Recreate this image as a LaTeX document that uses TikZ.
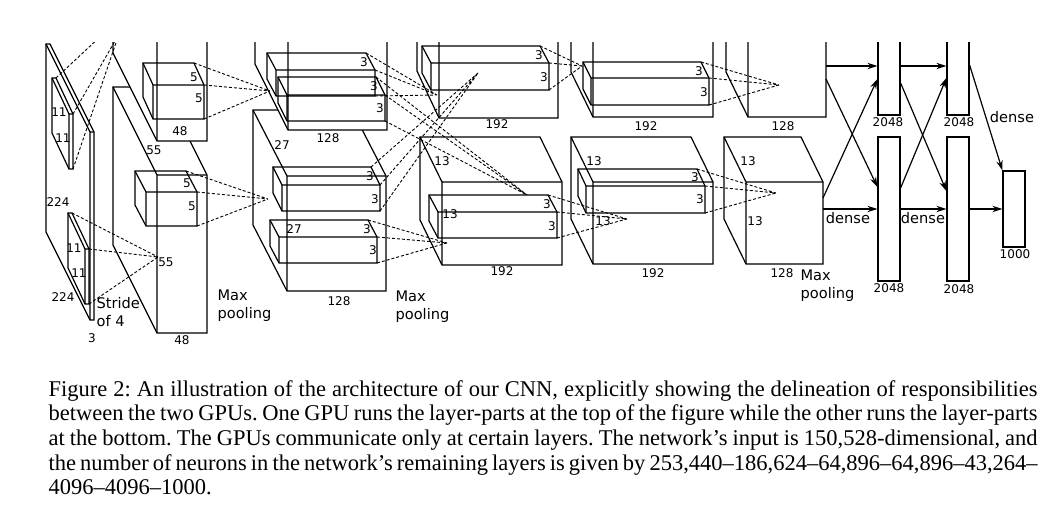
\documentclass[tikz,border=0pt]{standalone}
\usepackage{fontspec}
\setmainfont{Liberation Serif}
\newfontfamily\dejavu{DejaVu Sans}
\usetikzlibrary{arrows.meta}

\begin{document}
\begin{tikzpicture}[
  x=0.5pt, y=-0.5pt, line width=0.6pt,
  pics/cuboid/.style n args={4}{code={
    \draw[pic actions] (0,0) -- (#1,0) -- ++(#3,#4) -- ++(0,#2) -- ++(-#1,0) -- ++(-#3,-#4) -- cycle;
    \draw (#3,#4) -- ++(#1,0) (#3,#4) -- ++(0,#2) (#3,#4) -- (0,0);
    \coordinate (-b) at (#1,0);
    \coordinate (-c) at (#1+#3,#4);
    \coordinate (-d) at (#1+#3,#4+#2);
  }},
  block/.style={fill=white},
  conn/.style={line width=0.45pt, dash pattern=on 1.5pt off 1pt},
  fcarrow/.style={-{Stealth[length=5pt,width=3.2pt]}},
  fcbox/.style={draw, minimum width=11pt, minimum height=72pt, inner sep=0pt},
  dimlabel/.style={font=\dejavu\fontsize{6}{7}\selectfont, inner sep=0pt},
  wordlabel/.style={font=\dejavu\fontsize{7.3}{9}\selectfont, inner sep=0pt, align=left, anchor=west}
  ]
  \useasboundingbox (0,0) rectangle (1060,518);
  \begin{scope}
  \clip (0,43) rectangle (1060,360);
  % layers, lower GPU part first
  \pic[block] (inp) at (46,44) {cuboid={4}{188}{44}{88}};
  \pic[block] (c1b) at (113,87) {cuboid={50}{158}{44}{88}};
  \pic[block] (c1t) at (113,-105) {cuboid={50}{158}{44}{88}};
  \pic[block] (c2b) at (253,110) {cuboid={99}{115}{34}{66}};
  \pic[block] (c2t) at (255,-51) {cuboid={99}{115}{33}{66}};
  \pic[block] (c3b) at (420,137) {cuboid={120}{83}{22}{45}};
  \pic[block] (c3t) at (417,-12) {cuboid={119}{83}{22}{47}};
  \pic[block] (c4b) at (571,137) {cuboid={120}{82}{22}{45}};
  \pic[block] (c4t) at (571,-10) {cuboid={120}{82}{22}{45}};
  \pic[block] (c5b) at (724,137) {cuboid={77}{82}{22}{45}};
  \pic[block] (c5t) at (726,-10) {cuboid={78}{82}{22}{45}};
  % kernels
  \pic (ki1) at (52,78) {cuboid={4}{55}{17}{36}};
  \pic (ki2) at (68,213) {cuboid={4}{55}{17}{36}};
  \pic (k1t) at (143,63) {cuboid={51}{34}{10}{22}};
  \pic (k1b) at (135,171) {cuboid={51}{34}{11}{21}};
  \pic (k2a) at (267,53) {cuboid={99}{26}{9}{17}};
  \pic (k2b) at (278,77) {cuboid={98}{26}{9}{18}};
  \pic (k2c) at (273,167) {cuboid={98}{26}{9}{18}};
  \pic (k2d) at (270,220) {cuboid={98}{26}{9}{17}};
  \pic (k3t) at (422,46) {cuboid={118}{27}{9}{17}};
  \pic (k3b) at (429,195) {cuboid={119}{26}{9}{17}};
  \pic (k4t) at (583,62) {cuboid={118}{27}{8}{16}};
  \pic (k4b) at (578,169) {cuboid={119}{27}{8}{17}};
  % where the kernels map to
  \coordinate (p1u) at (103,34);
  \coordinate (p1t) at (119,34);
  \coordinate (p1b) at (158,257);
  \coordinate (p2t) at (270,91);
  \coordinate (p2b) at (268,199);
  \coordinate (p3t) at (437,95);
  \coordinate (p3x) at (478,73);
  \coordinate (p3b) at (447,243);
  \coordinate (p3y) at (527,195);
  \coordinate (p4t) at (582,66);
  \coordinate (p4b) at (627,219);
  \coordinate (p5t) at (779,85);
  \coordinate (p5b) at (776,193);
  \draw[conn] (ki1-b) -- (p1u) (ki1-c) -- (p1t) (ki1-d) -- (p1t);
  \draw[conn] (ki2-b) -- (p1b) (ki2-c) -- (p1b) (ki2-d) -- (p1b);
  \draw[conn] (k1t-b) -- (p2t) (k1t-c) -- (p2t) (k1t-d) -- (p2t);
  \draw[conn] (k1b-b) -- (p2b) (k1b-c) -- (p2b) (k1b-d) -- (p2b);
  \draw[conn] (k2a-b) -- (p3t) (k2a-c) -- (p3t) (k2a-d) -- (p3t);
  \draw[conn] (k2b-b) -- (p3y) (k2b-c) -- (p3y) (k2b-d) -- (p3y);
  \draw[conn] (k2c-b) -- (p3x) (k2c-c) -- (p3x) (k2c-d) -- (p3x);
  \draw[conn] (k2d-b) -- (p3b) (k2d-c) -- (p3b) (k2d-d) -- (p3b);
  \draw[conn] (k3t-b) -- (p4t) (k3t-c) -- (p4t) (k3t-d) -- (p4t);
  \draw[conn] (k3b-b) -- (p4b) (k3b-c) -- (p4b) (k3b-d) -- (p4b);
  \draw[conn] (k4t-b) -- (p5t) (k4t-c) -- (p5t) (k4t-d) -- (p5t);
  \draw[conn] (k4b-b) -- (p5b) (k4b-c) -- (p5b) (k4b-d) -- (p5b);
  % dense layers
  \node[fcbox] (fc1t) at (889,43) {};
  \node[fcbox] (fc1b) at (889,209) {};
  \node[fcbox] (fc2t) at (958,43) {};
  \node[fcbox] (fc2b) at (958,209) {};
  \node[fcbox, minimum height=38pt] (fc3) at (1014,209) {};
  \coordinate (c5ta) at (826,66);
  \coordinate (c5tb) at (826,79);
  \coordinate (c5ba) at (823,198);
  \coordinate (c5bb) at (823,209);
  \draw[fcarrow] (c5ta) -- ([yshift=-11.5pt]fc1t.west);
  \draw[fcarrow] (c5tb) -- ([yshift=11pt]fc1b.west);
  \draw[fcarrow] (c5ba) -- ([yshift=-18pt]fc1t.west);
  \draw[fcarrow] (c5bb) -- (fc1b.west);
  \draw[fcarrow] ([yshift=-11.5pt]fc1t.east) -- ([yshift=-11.5pt]fc2t.west);
  \draw[fcarrow] ([yshift=-20pt]fc1t.east) -- ([yshift=9pt]fc2b.west);
  \draw[fcarrow] ([yshift=10.5pt]fc1b.east) -- ([yshift=-17.5pt]fc2t.west);
  \draw[fcarrow] (fc1b.east) -- (fc2b.west);
  \draw[fcarrow] ([yshift=-11pt]fc2t.east) -- (fc3.north west);
  \draw[fcarrow] (fc2b.east) -- (fc3.west);
  \end{scope}
  % sizes
  \node[dimlabel] (n224a) at (58,202) {224};
  \node[dimlabel] (n224b) at (63,297) {224};
  \node[dimlabel] (n3) at (92,338) {3};
  \node[dimlabel] (n11a) at (59,112) {11};
  \node[dimlabel] (n11b) at (63,138) {11};
  \node[dimlabel] (n11c) at (74,248) {11};
  \node[dimlabel] (n11d) at (79,273) {11};
  \node[wordlabel] (stride) at (96,312) {Stride\\of 4};
  \node[dimlabel] (n55a) at (154,150) {55};
  \node[dimlabel] (n55b) at (166,262) {55};
  \node[dimlabel] (n48a) at (180,131) {48};
  \node[dimlabel] (n48b) at (182,340) {48};
  \node[dimlabel] (n5a) at (194,77) {5};
  \node[dimlabel] (n5b) at (199,98) {5};
  \node[dimlabel] (n5c) at (187,183) {5};
  \node[dimlabel] (n5d) at (192,206) {5};
  \node[wordlabel] (pool1) at (217,306) {Max\\pooling};
  \node[dimlabel] (n128a) at (328,138) {128};
  \node[dimlabel] (n128b) at (339,301) {128};
  \node[dimlabel] (n27a) at (282,145) {27};
  \node[dimlabel] (n27b) at (294,229) {27};
  \node[dimlabel] (n3a) at (364,62) {3};
  \node[dimlabel] (n3b) at (374,86) {3};
  \node[dimlabel] (n3c) at (380,108) {3};
  \node[dimlabel] (n3d) at (370,176) {3};
  \node[dimlabel] (n3e) at (375,199) {3};
  \node[dimlabel] (n3f) at (367,229) {3};
  \node[dimlabel] (n3g) at (373,250) {3};
  \node[wordlabel] (pool2) at (395,307) {Max\\pooling};
  \node[dimlabel] (n192a) at (497,124) {192};
  \node[dimlabel] (n192b) at (502,271) {192};
  \node[dimlabel] (n13a) at (442,161) {13};
  \node[dimlabel] (n13b) at (450,214) {13};
  \node[dimlabel] (n3h) at (539,55) {3};
  \node[dimlabel] (n3i) at (544,77) {3};
  \node[dimlabel] (n3j) at (547,204) {3};
  \node[dimlabel] (n3k) at (552,226) {3};
  \node[dimlabel] (n192c) at (646,126) {192};
  \node[dimlabel] (n192d) at (653,273) {192};
  \node[dimlabel] (n13c) at (594,161) {13};
  \node[dimlabel] (n13d) at (603,221) {13};
  \node[dimlabel] (n3l) at (699,71) {3};
  \node[dimlabel] (n3m) at (704,92) {3};
  \node[dimlabel] (n3n) at (695,177) {3};
  \node[dimlabel] (n3o) at (700,199) {3};
  \node[dimlabel] (n128c) at (783,126) {128};
  \node[dimlabel] (n128d) at (782,273) {128};
  \node[dimlabel] (n13e) at (748,161) {13};
  \node[dimlabel] (n13f) at (755,221) {13};
  \node[wordlabel] (pool3) at (800,286) {Max\\pooling};
  \node[wordlabel, anchor=center] (dense1) at (848,218) {dense};
  \node[wordlabel, anchor=center] (dense2) at (923,218) {dense};
  \node[wordlabel, anchor=center] (dense3) at (1012,117) {dense};
  \node[dimlabel] (n2048a) at (888,122) {2048};
  \node[dimlabel] (n2048b) at (959,122) {2048};
  \node[dimlabel] (n2048c) at (889,288) {2048};
  \node[dimlabel] (n2048d) at (959,289) {2048};
  \node[dimlabel] (n1000) at (1015,254) {1000};
  % caption
  \node[anchor=base west, text width=494.5pt, align=justify, inner sep=0pt,
    font=\fontsize{11.25}{12.35}\selectfont] (caption) at (48,396)
    {\noindent\frenchspacing\hyphenpenalty=10000\exhyphenpenalty=10000
    Figure 2: An illustration of the architecture of our CNN, explicitly showing the delineation of responsibilities\linebreak
    between the two GPUs. One GPU runs the layer-parts at the top of the figure while the other runs the layer-parts\linebreak
    at the bottom. The GPUs communicate only at certain layers. The network's input is 150,528-dimensional, and\linebreak
    the number of neurons in the network's remaining layers is given by 253,440--186,624--64,896--64,896--43,264--\linebreak
    4096--4096--1000.};
\end{tikzpicture}
\end{document}
